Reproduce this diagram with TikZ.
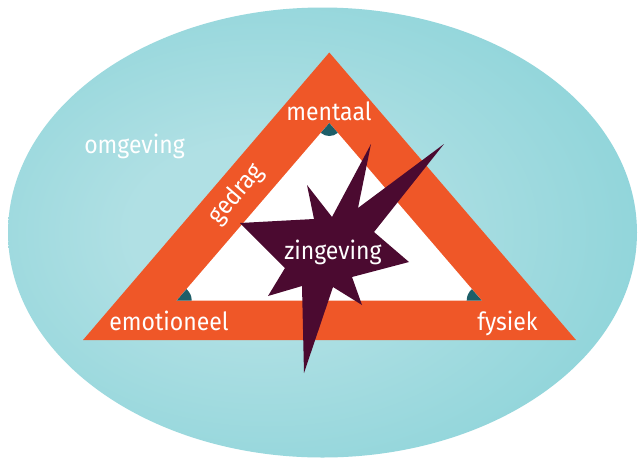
\documentclass[tikz,border=0pt]{standalone}
\usepackage{fontspec}
\setmainfont{Fira Sans}[FakeStretch=0.92]
\definecolor{orangeband}{RGB}{239,87,40}
\definecolor{starpurple}{RGB}{75,10,48}
\definecolor{markteal}{RGB}{29,94,104}
\definecolor{ellIn}{RGB}{176,224,228}
\definecolor{ellOut}{RGB}{102,198,205}
\pgfdeclareradialshading{ellshade}{\pgfpoint{-6bp}{0bp}}{color(0bp)=(ellIn); color(10bp)=(ellIn); color(56bp)=(ellOut); color(80bp)=(ellOut)}
\begin{document}
\begin{tikzpicture}[x=1pt,y=-1pt,
  lbl/.style={text=white, font=\fontsize{25}{25}\selectfont, inner sep=0pt, anchor=base},
  anglemark/.style={fill=markteal}]
\useasboundingbox (0,0) rectangle (638,459);
\fill[white] (0,0) rectangle (638,459);
% environment ellipse
\shade[shading=ellshade] (322.5,232.5) ellipse [x radius=314.5, y radius=225];
% triangle band
\fill[orangeband] (83,340) -- (329.3,52.5) -- (576,340) -- cycle;
\fill[white] (176.7,300.5) -- (329.3,123) -- (481.7,300.5) -- cycle;
% corner marks
\fill[anglemark] (329.3,123) -- ++(49.2:13) arc[start angle=49.2, end angle=130.8, radius=13] -- cycle;
\fill[anglemark] (176.7,300.5) -- ++(-49.2:15) arc[start angle=-49.2, end angle=0, radius=15] -- cycle;
\fill[anglemark] (481.7,300.5) -- ++(180:15) arc[start angle=180, end angle=229.2, radius=15] -- cycle;
% star
\fill[starpurple] (240,223) -- (314,219) -- (307,185) -- (332,217) -- (371,144) -- (358,208)
  -- (444,144) -- (374,232) -- (409,262) -- (352,277) -- (362,305) -- (333,287)
  -- (304,373) -- (302,286) -- (268,296) -- (285,268) -- cycle;
% labels
\node[lbl] (mentaal) at (329,120) {mentaal};
\node[lbl] (emotioneel) at (169,330) {emotioneel};
\node[lbl] (fysiek) at (507.5,330) {fysiek};
\node[lbl] (omgeving) at (134.5,153) {omgeving};
\node[lbl] (zingeving) at (333,259) {zingeving};
\node[lbl, rotate=49.5] (gedrag) at (241.5,199) {gedrag};
\end{tikzpicture}
\end{document}
